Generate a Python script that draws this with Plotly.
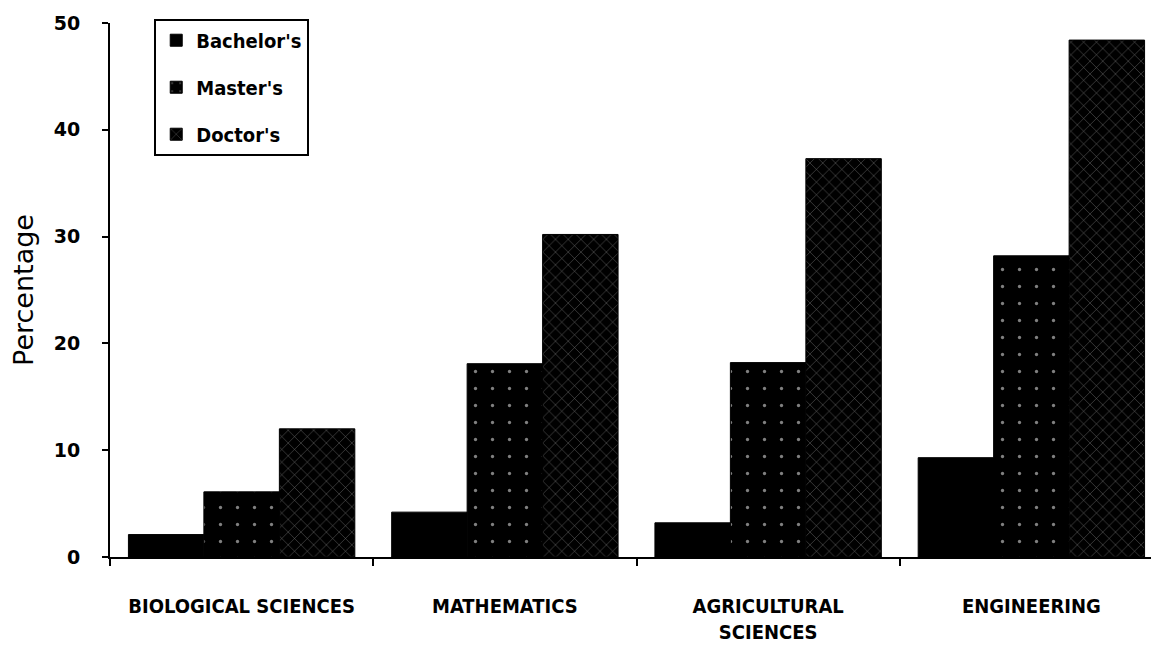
import plotly.graph_objects as go

categories = ["BIOLOGICAL SCIENCES", "MATHEMATICS", "AGRICULTURAL<br>SCIENCES", "ENGINEERING"]
bachelors = [2.1, 4.2, 3.2, 9.3]
masters = [6.1, 18.1, 18.2, 28.2]
doctors = [12.0, 30.2, 37.3, 48.4]
y_ticks = [0, 10, 20, 30, 40, 50]

pos = list(range(len(categories)))
bounds = [p - 0.5 for p in pos] + [pos[-1] + 0.5]

fig = go.Figure()
fig.add_trace(go.Bar(
    x=pos, y=bachelors, name="Bachelor's", legendgroup="b",
    marker=dict(color="black", line=dict(color="black", width=1)),
))
fig.add_trace(go.Bar(
    x=pos, y=masters, name="Master's", legendgroup="m",
    marker=dict(color="black", line=dict(color="black", width=1),
                pattern=dict(shape=".", fgcolor="white", bgcolor="black",
                             fillmode="overlay", size=17, solidity=0.03)),
))
fig.add_trace(go.Bar(
    x=pos, y=doctors, name="Doctor's", legendgroup="d",
    marker=dict(color="black", line=dict(color="black", width=1),
                pattern=dict(shape="x", fgcolor="white", bgcolor="black",
                             fillmode="overlay", size=9, solidity=0.09)),
))

cond = "DejaVu Sans Condensed, DejaVu Sans, sans-serif"

fig.update_layout(
    width=1159, height=647,
    margin=dict(l=102, r=4, t=9, b=98),
    paper_bgcolor="white", plot_bgcolor="white",
    barmode="group", bargap=0.14, bargroupgap=0,
    font=dict(family=cond, color="black"),
    legend=dict(
        x=0.042, y=1.008, xanchor="left", yanchor="top",
        bgcolor="white", bordercolor="black", borderwidth=2,
        font=dict(size=20, family=cond, color="black", weight="bold"),
        traceorder="grouped", tracegroupgap=18,
    ),
    xaxis=dict(
        range=[-0.5, 3.5], tickmode="array", tickvals=pos, ticktext=categories,
        ticks="", showline=True, linecolor="black", linewidth=2,
        showgrid=False, zeroline=False,
        tickfont=dict(size=20, family=cond, color="black", weight="bold"),
        ticklabelstandoff=30,
        minor=dict(tickmode="array", tickvals=bounds, ticks="outside", ticklen=7,
                   tickwidth=2, tickcolor="black", showgrid=False),
    ),
    xaxis2=dict(
        overlaying="x", matches="x", range=[-0.5, 3.5], tickmode="array", tickvals=bounds,
        ticks="inside", ticklen=6, tickwidth=2, tickcolor="black",
        showticklabels=False, showline=False, showgrid=False, zeroline=False,
    ),
    yaxis=dict(
        range=[0, 50], tickmode="array", tickvals=y_ticks,
        ticks="outside", ticklen=6, tickwidth=2, tickcolor="black",
        showline=True, linecolor="black", linewidth=2,
        showgrid=False, zeroline=False,
        tickfont=dict(size=19, family="DejaVu Sans", color="black", weight="bold"),
        ticklabelstandoff=18, ticklabeloverflow="allow",
        title=dict(text="Percentage", standoff=22,
                   font=dict(size=27, family="DejaVu Sans", color="black")),
    ),
    yaxis2=dict(
        overlaying="y", range=[0, 50], tickmode="array", tickvals=y_ticks,
        ticks="inside", ticklen=6, tickwidth=2, tickcolor="black",
        showticklabels=False, showline=False, showgrid=False, zeroline=False,
    ),
)

fig.write_html("out.html")
